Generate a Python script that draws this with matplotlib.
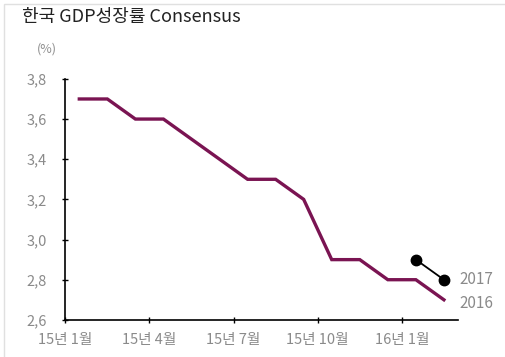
import matplotlib
matplotlib.use("Agg")
import matplotlib.pyplot as plt
from matplotlib.patches import Rectangle

plt.rcParams['font.family'] = ['Noto Sans CJK KR', 'DejaVu Sans']

# data (month index, 0 = 15년 1월)
x_2016 = [0.5, 1.5, 2.5, 3.5, 4.5, 5.5, 6.5, 7.5, 8.5, 9.5, 10.5, 11.5, 12.5, 13.5]
y_2016 = [3.7, 3.7, 3.6, 3.6, 3.5, 3.4, 3.3, 3.3, 3.2, 2.9, 2.9, 2.8, 2.8, 2.7]
x_2017 = [12.5, 13.5]
y_2017 = [2.9, 2.8]
xtick_pos = [0, 3, 6, 9, 12]
xtick_labels = ['15년 1월', '15년 4월', '15년 7월', '15년 10월', '16년 1월']
ytick_vals = [2.6, 2.8, 3.0, 3.2, 3.4, 3.6, 3.8]

fig = plt.figure(figsize=(5.06, 3.57), dpi=100)
ax = fig.add_axes([0.129, 0.104, 0.776, 0.675])

ax.plot(x_2016, y_2016, color='#7a1452', lw=2.4, solid_joinstyle='miter')
ax.plot(x_2017, y_2017, color='black', lw=1.3, marker='o', markersize=7.5)

ax.set_xlim(0, 14)
ax.set_ylim(2.6, 3.8)
ax.set_xticks(xtick_pos)
ax.set_xticklabels(xtick_labels)
ax.set_yticks(ytick_vals)
ax.set_yticklabels([f'{v:.1f}'.replace('.', ',') for v in ytick_vals])

for s in ['top', 'right']:
    ax.spines[s].set_visible(False)
for s in ['left', 'bottom']:
    ax.spines[s].set_linewidth(1.2)
ax.tick_params(axis='both', direction='inout', length=5, width=1,
               labelsize=10.5, labelcolor='#8a8a8a')
ax.tick_params(axis='y', pad=11)
ax.tick_params(axis='x', pad=7)

ax.text(14.05, 2.8, '2017', fontsize=11, color='#8a8a8a', va='center', ha='left')
ax.text(14.05, 2.68, '2016', fontsize=11, color='#8a8a8a', va='center', ha='left')

fig.text(0.043, 0.952, '한국 GDP성장률 Consensus', fontsize=13, color='#222222',
         va='center', ha='left')
fig.text(0.073, 0.862, '(%)', fontsize=9, color='#909090', va='center', ha='left')

fig.patches.append(Rectangle((0.008, -0.01), 1.0, 1.0, transform=fig.transFigure,
                             fill=False, edgecolor='#e0e0e0', lw=1))

fig.savefig('out.png', dpi=100)
